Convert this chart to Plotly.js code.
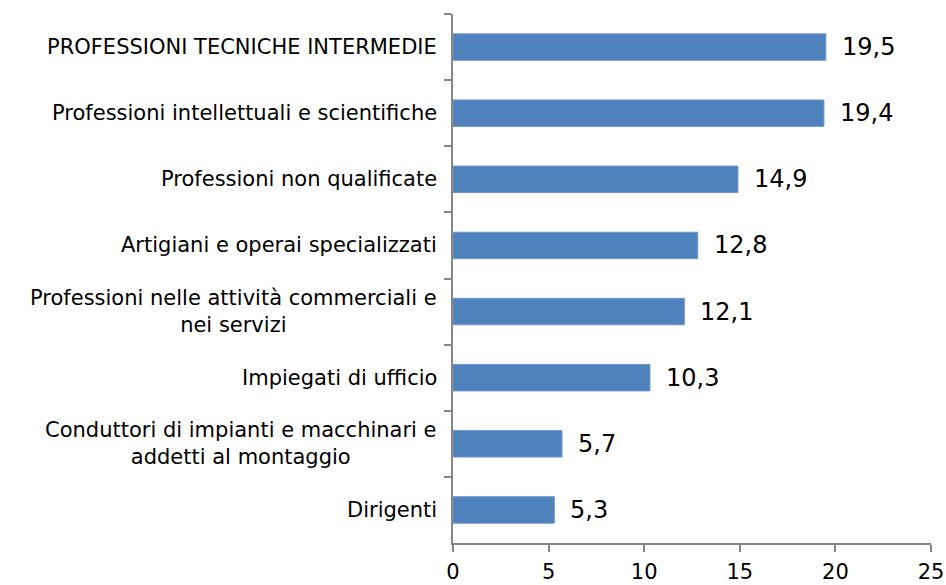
<!DOCTYPE html>
<html>
<head>
<meta charset="utf-8">
<script src="https://cdn.plot.ly/plotly-3.0.1.min.js"></script>
<style>html,body{margin:0;padding:0;background:#fff;}#chart{width:946px;height:585px;}</style>
</head>
<body>
<div id="chart"></div>
<script>
var categories = [
  "PROFESSIONI TECNICHE INTERMEDIE",
  "Professioni intellettuali e scientifiche",
  "Professioni non qualificate",
  "Artigiani e operai specializzati",
  "Professioni nelle attività commerciali e<br>nei servizi",
  "Impiegati di ufficio",
  "Conduttori di impianti e macchinari e<br>addetti al montaggio",
  "Dirigenti"
];
var values = [19.5, 19.4, 14.9, 12.8, 12.1, 10.3, 5.7, 5.3];
var xTicks = [0, 5, 10, 15, 20, 25];

var FONT = "DejaVu Sans, sans-serif";
var trace = {
  type: "bar",
  orientation: "h",
  x: values,
  y: categories,
  marker: {color: "#4F81BD", line: {color: "#6f97c9", width: 1}},
  hoverinfo: "none"
};

var annotations = [];
categories.forEach(function (c, i) {
  annotations.push({
    xref: "paper", yref: "y", x: 0, y: c, text: c,
    xanchor: "right", yanchor: "middle", align: "center", xshift: -14,
    showarrow: false, font: {family: FONT, size: 21, color: "#000"}
  });
  annotations.push({
    xref: "x", yref: "y", x: values[i], y: c,
    text: values[i].toFixed(1).replace(".", ","),
    xanchor: "left", yanchor: "middle", xshift: 14,
    showarrow: false, font: {family: FONT, size: 24, color: "#000"}
  });
});

var layout = {
  width: 946, height: 585,
  margin: {l: 453, r: 15, t: 14, b: 42, pad: 0},
  paper_bgcolor: "#fff", plot_bgcolor: "#fff",
  showlegend: false,
  bargap: 0.6,
  separators: ",.",
  xaxis: {
    range: [0, 25], tickvals: xTicks, ticktext: xTicks.map(String),
    showgrid: false, zeroline: false,
    showline: true, linecolor: "#868686", linewidth: 2,
    ticks: "outside", ticklen: 7, tickcolor: "#868686", tickwidth: 2,
    ticklabelstandoff: 2,
    tickfont: {family: FONT, size: 21, color: "#000"}
  },
  yaxis: {
    type: "category", autorange: "reversed",
    showticklabels: false, showgrid: false, zeroline: false,
    showline: true, linecolor: "#868686", linewidth: 2,
    ticks: "outside", ticklen: 7, tickcolor: "#868686", tickwidth: 2,
    tickson: "boundaries"
  },
  annotations: annotations
};

Plotly.newPlot("chart", [trace], layout, {displayModeBar: false, staticPlot: true});
</script>
</body>
</html>
